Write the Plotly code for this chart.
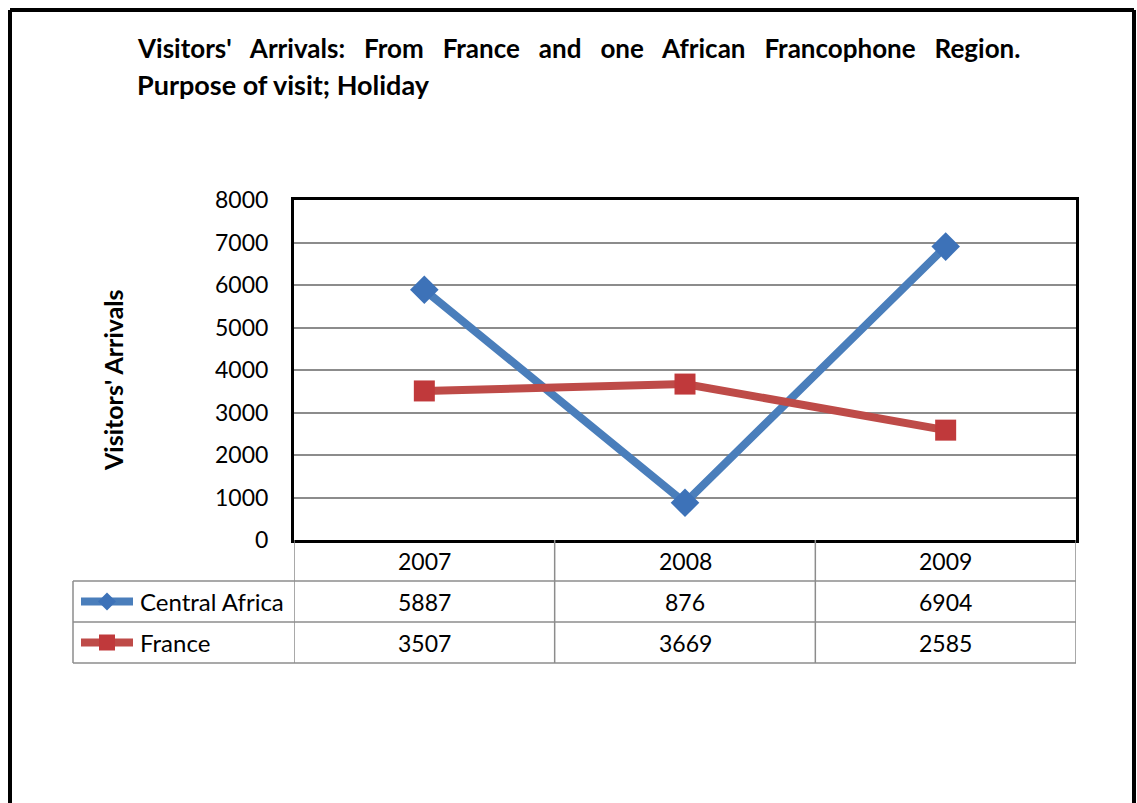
import plotly.graph_objects as go

W, H = 1137, 803

years = ["2007", "2008", "2009"]
central_africa = [5887, 876, 6904]
france = [3507, 3669, 2585]
series_names = ["Central Africa", "France"]
y_ticks = [0, 1000, 2000, 3000, 4000, 5000, 6000, 7000, 8000]
title_words = ["Visitors'", "Arrivals:", "From", "France", "and", "one", "African", "Francophone", "Region."]
subtitle = "Purpose of visit; Holiday"
y_title = "Visitors' Arrivals"

COLORS = {"blue": "#4a7ebb", "blue_mk": "#3d72b8", "red": "#be4b48", "red_mk": "#c0393b",
          "grid": "#8c8c8c"}
FONT = "Lato, 'Open Sans', sans-serif"


def px(x):
    return x / W


def py(y):
    return 1 - y / H


# plot area in pixels
L, R, T, B = 294, 1076, 200, 540
row_h = 41

fig = go.Figure()
fig.add_trace(go.Scatter(x=[0, 1, 2], y=central_africa, mode="lines+markers", name=series_names[0],
                         line=dict(color=COLORS["blue"], width=8),
                         marker=dict(symbol="diamond", size=22, color=COLORS["blue_mk"])))
fig.add_trace(go.Scatter(x=[0, 1, 2], y=france, mode="lines+markers", name=series_names[1],
                         line=dict(color=COLORS["red"], width=8),
                         marker=dict(symbol="square", size=21, color=COLORS["red_mk"])))

shapes = []
# outer frame (bottom is cut off)
for x0, y0, x1, y1 in [(10, 10, 10, H + 5), (10, 10, 1134, 10), (1134, 10, 1134, H + 5)]:
    shapes.append(dict(type="line", xref="paper", yref="paper", x0=px(x0), y0=py(y0), x1=px(x1), y1=py(y1),
                       line=dict(color="black", width=4)))
# data table grid
gl = dict(color=COLORS["grid"], width=1.5)
for k in range(1, 4):
    yy = B + row_h * k
    shapes.append(dict(type="line", xref="paper", yref="paper", x0=px(73), x1=px(R), y0=py(yy), y1=py(yy), line=gl))
shapes.append(dict(type="line", xref="paper", yref="paper", x0=px(73), x1=px(73),
                   y0=py(B + row_h), y1=py(B + 3 * row_h), line=gl))
for xb in [-0.5, 0.5, 1.5, 2.5]:
    shapes.append(dict(type="line", xref="x", yref="paper", x0=xb, x1=xb,
                       y0=py(B), y1=py(B + 3 * row_h), line=gl))

# legend keys inside the table
for i, (lc, mc, sym) in enumerate([(COLORS["blue"], COLORS["blue_mk"], "diamond"),
                                   (COLORS["red"], COLORS["red_mk"], "square")]):
    yk = B + row_h * (i + 1) + row_h / 2
    shapes.append(dict(type="line", xref="paper", yref="paper", x0=px(81), x1=px(133), y0=py(yk), y1=py(yk),
                       line=dict(color=lc, width=8)))
    if sym == "diamond":
        d = 9
        path = (f"M {px(107)},{py(yk - d)} L {px(107 + d)},{py(yk)} L {px(107)},{py(yk + d)} "
                f"L {px(107 - d)},{py(yk)} Z")
        shapes.append(dict(type="path", xref="paper", yref="paper", path=path, fillcolor=mc, line=dict(width=0)))
    else:
        s = 8
        shapes.append(dict(type="rect", xref="paper", yref="paper", x0=px(107 - s), x1=px(107 + s),
                           y0=py(yk - s), y1=py(yk + s), fillcolor=mc, line=dict(width=0)))

ann = []
tf = dict(family=FONT, size=23, color="black")
for i, yr in enumerate(years):
    ann.append(dict(x=i, y=py(B + row_h / 2), xref="x", yref="paper", text=yr, showarrow=False,
                    yanchor="middle", font=tf))
for r, vals in enumerate([central_africa, france]):
    yc = py(B + row_h * (r + 1) + row_h / 2)
    ann.append(dict(x=px(138), y=yc, xref="paper", yref="paper", text=series_names[r], showarrow=False,
                    xanchor="left", yanchor="middle", font=dict(family=FONT, size=24, color="black")))
    for i, v in enumerate(vals):
        ann.append(dict(x=i, y=yc, xref="x", yref="paper", text=str(v), showarrow=False,
                        yanchor="middle", font=tf))

ann.append(dict(x=px(113), y=py(380), xref="paper", yref="paper", text=f"<b>{y_title}</b>",
                textangle=-90, showarrow=False, xanchor="center", yanchor="middle",
                font=dict(family=FONT, size=25, color="black")))
gap = "\u00a0" * 3
ann.append(dict(x=px(135), y=py(48), xref="paper", yref="paper", xanchor="left", yanchor="middle",
                text="<b>" + gap.join(title_words) + "</b>", showarrow=False,
                font=dict(family=FONT, size=26, color="black")))
ann.append(dict(x=px(135), y=py(85), xref="paper", yref="paper", xanchor="left", yanchor="middle",
                text=f"<b>{subtitle}</b>", showarrow=False, font=dict(family=FONT, size=27, color="black")))

fig.update_layout(
    width=W, height=H,
    margin=dict(l=0, r=0, t=0, b=0, autoexpand=False),
    plot_bgcolor="white", paper_bgcolor="white",
    showlegend=False,
    shapes=shapes, annotations=ann,
    xaxis=dict(domain=[px(L), px(R)], range=[-0.5, 2.5], showticklabels=False, showgrid=False,
               zeroline=False, showline=True, mirror=True, linecolor="black", linewidth=3, automargin=False),
    yaxis=dict(domain=[py(B), py(T)], range=[0, 8000], tickvals=y_ticks, showgrid=True,
               gridcolor=COLORS["grid"], gridwidth=1.5, zeroline=False, showline=True, mirror=True,
               linecolor="black", linewidth=3, ticks="", ticklabelstandoff=18, automargin=False,
               tickfont=dict(family=FONT, size=23, color="black")),
)

fig.write_html("out.html", config={"displayModeBar": False},
               post_script="document.body.style.margin='0';")
